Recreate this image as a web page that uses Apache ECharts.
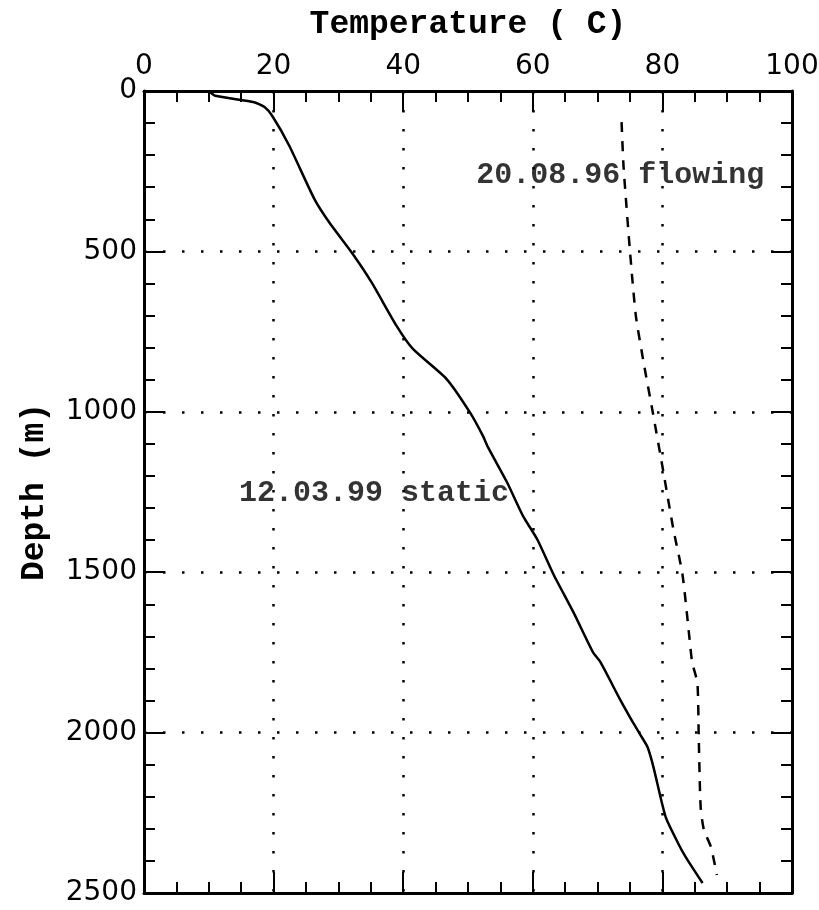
<!DOCTYPE html>
<html>
<head>
<meta charset="utf-8">
<script src="https://cdn.jsdelivr.net/npm/echarts@6/dist/echarts.min.js"></script>
<style>
html,body{margin:0;padding:0;background:#fff;}
#chart{width:819px;height:910px;}
</style>
</head>
<body>
<div id="chart"></div>
<script>
// Static profile 12.03.99: [temperature (C), depth (m)]
const staticTemp  = [10, 11, 17, 18.6, 19.8, 22.4, 26.3, 28.6, 32.0, 35.1, 39.0, 41.5, 46.7, 50.3, 52.3, 53.1, 56.0, 58.5, 60.7, 63.2, 66.3, 69.3, 70.4, 73.5, 75.5, 76.6, 77.7, 78.6, 80.5, 82.4, 83.6, 86.2];
const staticDepth = [0, 15, 35, 50, 78, 170, 337, 410, 502, 596, 733, 804, 898, 1002, 1075, 1111, 1219, 1325, 1398, 1507, 1626, 1750, 1779, 1898, 1970, 2007, 2045, 2106, 2263, 2344, 2388, 2469];
// Flowing profile 20.08.96
const flowTemp  = [73.7, 74.0, 75.0, 75.9, 77.1, 78.5, 80.0, 81.7, 83.1, 84.2, 84.6, 85.4, 85.6, 85.9, 86.4, 87.5, 88.4];
const flowDepth = [97, 234, 500, 700, 846, 1000, 1170, 1367, 1507, 1710, 1782, 1845, 2007, 2232, 2303, 2357, 2444];
// Annotations
const noteText  = ['20.08.96 flowing', '12.03.99 static'];
const noteTemp  = [73.5, 35.5];
const noteDepth = [262, 1254];
// Axes
const tempMin = 0, tempMax = 100, tempStep = 20;
const depthMin = 0, depthMax = 2500, depthStep = 500;

const labelFont = 'DejaVu Sans';
const textFont = 'Liberation Mono';

function pairs(xs, ys){ return xs.map((x,i)=>[x, ys[i]]); }

const gridLine = {show:true, lineStyle:{color:'#000', width:2.5, type:[2.5,16.5]}};
const axisLine = {show:true, onZero:false, lineStyle:{color:'#000', width:3}};
const tick = {show:true, inside:true, length:21, lineStyle:{color:'#000', width:2}};
const minor = (n)=>({show:true, splitNumber:n, length:11, lineStyle:{color:'#000', width:2}});
const plain = (v)=>String(v);

const chart = echarts.init(document.getElementById('chart'), null, {renderer:'canvas'});
chart.setOption({
  animation:false,
  backgroundColor:'#fff',
  grid:{left:144, right:27, top:91, bottom:17, outerBoundsMode:'none', containLabel:false},
  xAxis:[
    {type:'value', position:'top', min:tempMin, max:tempMax, interval:tempStep,
     name:'Temperature ( C)', nameLocation:'middle', nameGap:50,
     nameTextStyle:{fontFamily:textFont, fontSize:33, color:'#000', fontWeight:'bold'},
     axisLine, axisTick:tick, minorTick:minor(4),
     axisLabel:{fontFamily:labelFont, fontSize:28, color:'#000', margin:10, formatter:plain},
     splitLine:gridLine},
    {type:'value', position:'bottom', min:tempMin, max:tempMax, interval:tempStep,
     axisLine, axisTick:tick, minorTick:minor(4), axisLabel:{show:false}, splitLine:{show:false}}
  ],
  yAxis:[
    {type:'value', position:'left', inverse:true, min:depthMin, max:depthMax, interval:depthStep,
     name:'Depth (m)', nameLocation:'middle', nameGap:93, nameRotate:90,
     nameTextStyle:{fontFamily:textFont, fontSize:33, color:'#000', fontWeight:'bold'},
     axisLine, axisTick:tick, minorTick:minor(5),
     axisLabel:{fontFamily:labelFont, fontSize:28, color:'#000', margin:7, formatter:plain},
     splitLine:gridLine},
    {type:'value', position:'right', inverse:true, min:depthMin, max:depthMax, interval:depthStep,
     axisLine, axisTick:tick, minorTick:minor(5), axisLabel:{show:false}, splitLine:{show:false}}
  ],
  series:[
    {type:'line', data:pairs(staticTemp, staticDepth), showSymbol:false, smooth:0.2,
     lineStyle:{color:'#000', width:2.5}},
    {type:'line', data:pairs(flowTemp, flowDepth), showSymbol:false, smooth:0.2,
     lineStyle:{color:'#000', width:2.5, type:[10,9]}},
    {type:'scatter', symbolSize:0, data:pairs(noteTemp, noteDepth).map((p,i)=>({value:p, name:noteText[i]})),
     label:{show:true, position:'inside', formatter:(p)=>p.name,
       fontFamily:textFont, fontSize:30, color:'#000', fontWeight:'bold'}}
  ]
});
</script>
</body>
</html>
